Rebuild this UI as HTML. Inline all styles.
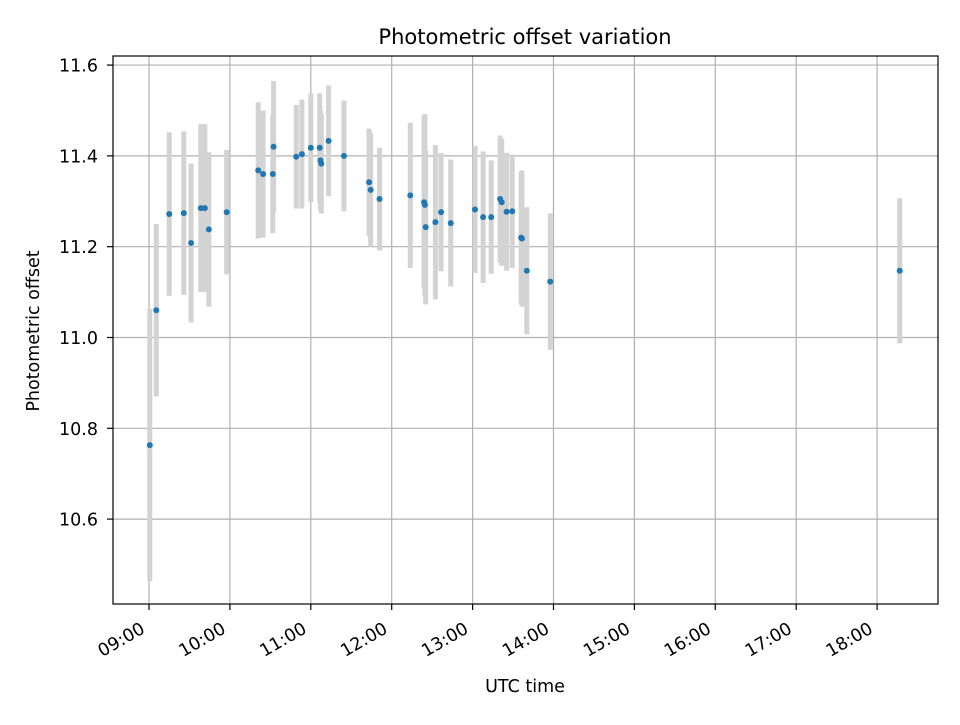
<!DOCTYPE html>
<html><head><meta charset="utf-8"><style>
body{margin:0;background:#fff;}
svg text{font-family:"DejaVu Sans","Liberation Sans",sans-serif;fill:#000;}
</style></head><body>
<svg id="chart" width="960" height="720" xmlns="http://www.w3.org/2000/svg">
<rect width="960" height="720" fill="#fff"/>
<g id="grid"></g>
<g id="errs"></g>
<g id="pts"></g>
<rect x="113" y="56" width="825" height="548" fill="none" stroke="#000" stroke-width="1.2"/>
<g id="axes"></g>
<text x="525" y="44" font-size="21" text-anchor="middle">Photometric offset variation</text>
<text x="525" y="692" font-size="17.5" text-anchor="middle">UTC time</text>
<text transform="translate(39,331) rotate(-90)" font-size="17.5" text-anchor="middle">Photometric offset</text>
</svg>
<script>
const times=[9.01,9.09,9.25,9.43,9.52,9.64,9.69,9.74,9.96,10.35,10.41,10.53,10.54,10.82,10.89,11.0,11.11,11.12,11.13,11.22,11.41,11.72,11.74,11.85,12.23,12.40,12.41,12.42,12.54,12.61,12.73,13.03,13.13,13.23,13.34,13.36,13.42,13.49,13.60,13.61,13.67,13.96,18.28];
const values=[10.763,11.06,11.272,11.274,11.208,11.285,11.285,11.238,11.276,11.368,11.36,11.36,11.42,11.398,11.404,11.418,11.418,11.39,11.383,11.433,11.40,11.342,11.325,11.305,11.313,11.298,11.292,11.243,11.254,11.276,11.252,11.282,11.265,11.265,11.305,11.298,11.277,11.278,11.22,11.218,11.147,11.123,11.147];
const errors=[0.30,0.19,0.18,0.18,0.175,0.185,0.185,0.17,0.137,0.15,0.14,0.13,0.145,0.114,0.12,0.12,0.12,0.11,0.11,0.122,0.122,0.118,0.125,0.113,0.16,0.19,0.2,0.17,0.17,0.13,0.14,0.14,0.145,0.125,0.14,0.14,0.13,0.125,0.145,0.15,0.14,0.15,0.16];
const xTicks=[9,10,11,12,13,14,15,16,17,18];
const yTicks=[10.6,10.8,11.0,11.2,11.4,11.6];
const L=113,R=938,T=56,B=604;
const x0=8.555,x1=18.753,y0=10.413,y1=11.62;
const sx=v=>L+(v-x0)/(x1-x0)*(R-L);
const sy=v=>B-(v-y0)/(y1-y0)*(B-T);
const NS="http://www.w3.org/2000/svg";
function mk(t,a,p){const e=document.createElementNS(NS,t);for(const k in a)e.setAttribute(k,a[k]);p.appendChild(e);return e;}
const grid=document.getElementById('grid'),axes=document.getElementById('axes');
xTicks.forEach(h=>{const x=sx(h);
 const g=mk('line',{x1:x,x2:x,y1:T,y2:B,stroke:'#b0b0b0','stroke-width':1.2},grid);
 
 
 const tk=mk('line',{x1:x,x2:x,y1:B,y2:B+6,stroke:'#000','stroke-width':1.2},axes);
 
 
 const bx=x-3,by=B+28;
 const t=mk('text',{x:bx,y:by,'font-size':17.5,'text-anchor':'end',transform:`rotate(-30 ${bx} ${by})`},axes);
 t.textContent=String(h).padStart(2,'0')+':00';
 
 
});
yTicks.forEach(v=>{const y=sy(v);
 const g=mk('line',{x1:L,x2:R,y1:y,y2:y,stroke:'#b0b0b0','stroke-width':1.2},grid);
 
 
 const tk=mk('line',{x1:L-6,x2:L,y1:y,y2:y,stroke:'#000','stroke-width':1.2},axes);
 
 
 const t=mk('text',{x:L-15,y:y+6.5,'font-size':17.5,'text-anchor':'end'},axes);
 t.textContent=v.toFixed(1);
 
 
});
const errs=document.getElementById('errs'),pts=document.getElementById('pts');
times.forEach((h,i)=>{const x=sx(h);
 const e=mk('line',{x1:x,x2:x,y1:sy(values[i]+errors[i]),y2:sy(values[i]-errors[i]),stroke:'#d3d3d3','stroke-width':5},errs);
 
 
 const c=mk('circle',{cx:x,cy:sy(values[i]),r:3,fill:'#1f77b4'},pts);
 
 
});
</script>
</body></html>
